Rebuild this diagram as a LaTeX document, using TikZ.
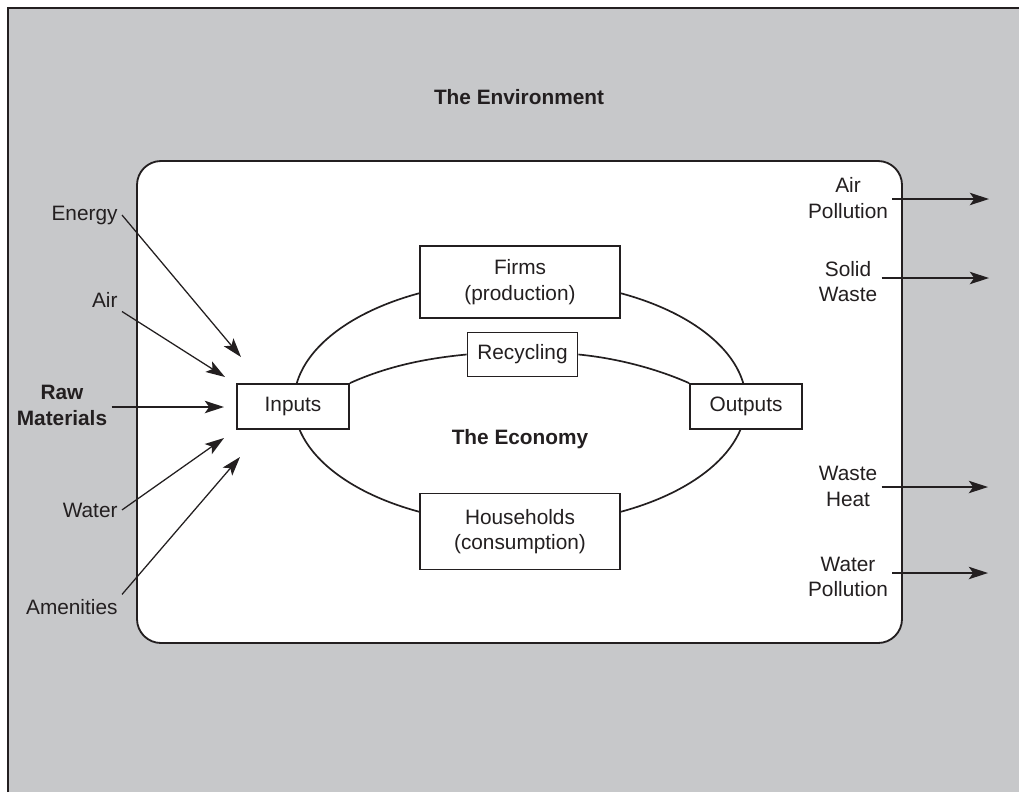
\documentclass[tikz,border=0pt]{standalone}
\usepackage{fontspec}
\setmainfont{Liberation Sans}
\usetikzlibrary{arrows.meta}
\definecolor{envgray}{RGB}{199,200,202}
\definecolor{ink}{RGB}{35,31,32}
\begin{document}
\begin{tikzpicture}[x=0.025cm,y=-0.025cm,
        every node/.style={font=\fontsize{14.8}{18}\selectfont,text=ink},
        bold/.style={font=\fontsize{14.8}{18}\selectfont\bfseries},
        box/.style={draw=ink,line width=1.3pt,fill=white,align=center,inner sep=2pt},
        lbl/.style={align=center,inner sep=3pt},
        flow/.style={draw=ink,line width=0.9pt,-{Stealth[length=4.8mm,width=3.1mm,inset=1.1mm]}}]
        \useasboundingbox (0,0) rectangle (1019,792);
        \fill[envgray] (8,8) rectangle (1019,792);
        \draw[ink,line width=1.4pt] (8,792)--(8,8)--(1019,8);
        \draw[ink,line width=1.3pt,fill=white,rounded corners=0.6cm] (137,161) rectangle (902,643);
        \node[bold] (Env) at (519,97) {The Environment};
        \draw[ink,line width=1.2pt] (520,402.5) ellipse [x radius=5.65cm,y radius=3.05cm];
        \node[box,minimum width=2.8cm,minimum height=1.125cm] (I) at (293,406.5) {Inputs};
        \node[box,minimum width=2.8cm,minimum height=1.125cm] (O) at (746,406.5) {Outputs};
        \node[box,minimum width=5cm,minimum height=1.78cm] (F) at (520,282) {Firms\\(production)};
        \node[box,minimum width=2.75cm,minimum height=1.1cm] (R) at (522.5,354.5) {Recycling};
        \node[box,minimum width=5cm,minimum height=1.9cm] (H) at (520,531.5) {Households\\(consumption)};
        \node[bold] (Eco) at (520,439) {The Economy};
        \draw[ink,line width=1.2pt] (I.north east) .. controls (390,365) and (430,358) .. (R.west);
        \draw[ink,line width=1.2pt] (R.east) .. controls (615,358) and (655,368) .. (O.north west);
        \node[lbl,anchor=base east] (En) at (122,220) {Energy};
        \node[lbl,anchor=base east] (Ai) at (122,307) {Air};
        \node[lbl,bold] (Raw) at (62,405.5) {Raw\\Materials};
        \node[lbl,anchor=base east] (Wa) at (122,517) {Water};
        \node[lbl,anchor=base east] (Am) at (122,614) {Amenities};
        \coordinate (tE) at (241,357);
        \coordinate (tA) at (225,377);
        \coordinate (tR) at (224,407);
        \coordinate (tW) at (224,438);
        \coordinate (tM) at (240,457);
        \draw[flow] (En.east) -- (tE);
        \draw[flow] (Ai.south east) -- (tA);
        \draw[flow] (Raw.east |- tR) -- (tR);
        \draw[flow] (Wa.east) -- (tW);
        \draw[flow] (Am.north east) -- (tM);
        \node[lbl] (AP) at (848,198) {Air\\Pollution};
        \node[lbl] (SW) at (848,281.4) {Solid\\Waste};
        \node[lbl] (WH) at (848,486.5) {Waste\\Heat};
        \node[lbl] (WP) at (848,577) {Water\\Pollution};
        \coordinate (oA) at (989,199);
        \coordinate (oS) at (989,278);
        \coordinate (oH) at (988,487);
        \coordinate (oW) at (988,573);
        \draw[flow] (AP.east |- oA) -- (oA);
        \draw[flow] (SW.east |- oS) -- (oS);
        \draw[flow] (WH.east |- oH) -- (oH);
        \draw[flow] (WP.east |- oW) -- (oW);
\end{tikzpicture}
\end{document}
